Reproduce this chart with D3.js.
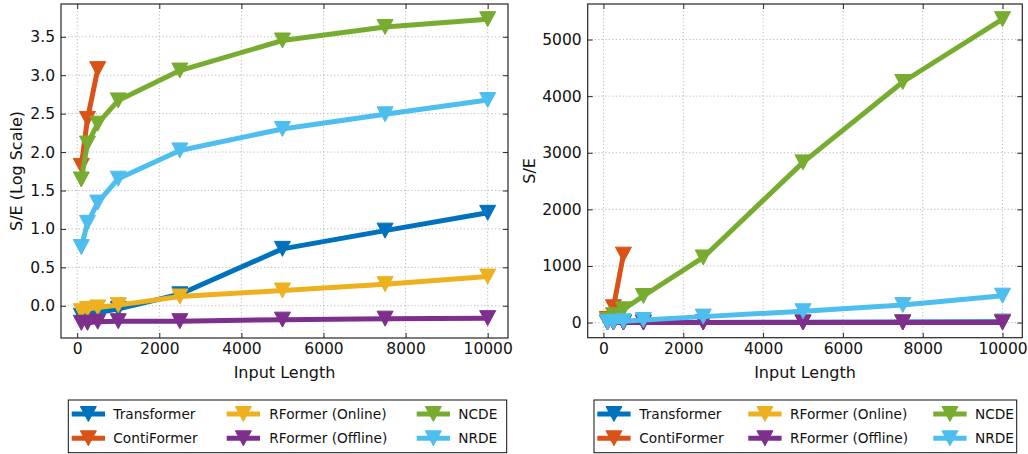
<!DOCTYPE html>
<html>
<head>
<meta charset="utf-8">
<script src="https://cdn.jsdelivr.net/npm/d3@7"></script>
<style>
  html, body { margin: 0; padding: 0; background: #fff; }
  svg { display: block; font-family: "DejaVu Sans", sans-serif; }
</style>
</head>
<body>
<svg id="chart" width="1028" height="454"></svg>
<script>
// ---------------- data ----------------
const inputLengths = [100, 250, 500, 1000, 2500, 5000, 7500, 10000];
const contiLengths = [100, 250, 500];
const transformer   = [0.74, 0.78, 0.81, 0.91, 1.41, 5.5, 9.5, 16.2];
const contiformer   = [66, 270, 1200];
const rformerOnline = [0.85, 0.91, 0.95, 1.02, 1.32, 1.58, 1.91, 2.40];
const rformerOffline= [0.60, 0.60, 0.62, 0.63, 0.63, 0.66, 0.68, 0.69];
const ncde          = [44, 129, 234, 470, 1150, 2830, 4250, 5360];
const nrde          = [5.8, 12, 22, 45, 105, 200, 310, 475];

const seriesNames  = ["Transformer", "ContiFormer", "RFormer (Online)", "RFormer (Offline)", "NCDE", "NRDE"];
const seriesColors = ["#0072BD", "#D95319", "#EDB120", "#7E2F8E", "#77AC30", "#4DBEEE"];
const seriesX      = [inputLengths, contiLengths, inputLengths, inputLengths, inputLengths, inputLengths];
const seriesY      = [transformer, contiformer, rformerOnline, rformerOffline, ncde, nrde];

const xTicks      = [0, 2000, 4000, 6000, 8000, 10000];
const yTicksLog   = [0, 0.5, 1.0, 1.5, 2.0, 2.5, 3.0, 3.5];
const yTicksLin   = [0, 1000, 2000, 3000, 4000, 5000];

// ---------------- setup ----------------
const svg = d3.select("#chart");
const FONT_TICK = 15.5, FONT_LEG = 13.7;
const LW = 5, MW = 16, MH = 15;

function pad(ext) { const r = ext[1] - ext[0]; return [ext[0] - 0.05 * r, ext[1] + 0.05 * r]; }

const allX = seriesX.flat();
const xDomain = pad(d3.extent(allX));

const series = seriesNames.map((name, i) => ({
  name, color: seriesColors[i],
  pts: seriesX[i].map((x, j) => ({x, v: seriesY[i][j]}))
}));

function tri(cx, cy) {
  return `M${cx - MW/2},${cy - MH/2}L${cx + MW/2},${cy - MH/2}L${cx},${cy + MH/2}Z`;
}

function panel(opts) {
  const {x0, x1, y0, y1, valueFn, yTicks, yFmt, yLabel, yLabelX} = opts;
  const g = svg.append("g");
  const allV = series.flatMap(s => s.pts.map(p => valueFn(p.v)));
  const x = d3.scaleLinear().domain(xDomain).range([x0, x1]);
  const y = d3.scaleLinear().domain(pad(d3.extent(allV))).range([y1, y0]);

  // grid
  const grid = g.append("g").attr("stroke", "#b8b8b8").attr("stroke-width", 0.9).attr("stroke-dasharray", "1.3,2.2");
  grid.selectAll(".gx").data(xTicks).join("line")
    .attr("x1", d => x(d)).attr("x2", d => x(d)).attr("y1", y0).attr("y2", y1);
  grid.selectAll(".gy").data(yTicks).join("line")
    .attr("y1", d => y(d)).attr("y2", d => y(d)).attr("x1", x0).attr("x2", x1);

  // series
  const line = d3.line().x(p => x(p.x)).y(p => y(valueFn(p.v)));
  series.forEach(s => {
    const sg = g.append("g");
    sg.append("path").attr("d", line(s.pts)).attr("fill", "none")
      .attr("stroke", s.color).attr("stroke-width", LW).attr("stroke-linejoin", "round");
    sg.selectAll("path.m").data(s.pts).join("path").attr("class", "m")
      .attr("d", p => tri(x(p.x), y(valueFn(p.v)))).attr("fill", s.color)
      .attr("stroke", s.color).attr("stroke-width", 1).attr("stroke-linejoin", "miter");
  });

  // axes
  const fs = FONT_TICK;
  const ax = (sel) => sel.call(a => a.select(".domain").remove())
    .call(a => a.selectAll("text").attr("font-size", fs).attr("font-family", "DejaVu Sans").attr("fill", "#111"))
    .call(a => a.selectAll("line").attr("stroke", "#262626").attr("stroke-width", 1));
  g.append("g").attr("transform", `translate(0,${y1})`)
    .call(d3.axisBottom(x).tickValues(xTicks).tickSizeInner(-5).tickSizeOuter(0).tickPadding(5).tickFormat(d3.format("d"))).call(ax);
  g.append("g").attr("transform", `translate(0,${y0})`)
    .call(d3.axisTop(x).tickValues(xTicks).tickSizeInner(-5).tickSizeOuter(0).tickFormat("")).call(ax);
  g.append("g").attr("transform", `translate(${x0},0)`)
    .call(d3.axisLeft(y).tickValues(yTicks).tickSizeInner(-5).tickSizeOuter(0).tickPadding(6).tickFormat(yFmt)).call(ax);
  g.append("g").attr("transform", `translate(${x1},0)`)
    .call(d3.axisRight(y).tickValues(yTicks).tickSizeInner(-5).tickSizeOuter(0).tickFormat("")).call(ax);

  // frame
  g.append("rect").attr("x", x0).attr("y", y0).attr("width", x1 - x0).attr("height", y1 - y0)
    .attr("fill", "none").attr("stroke", "#262626").attr("stroke-width", 1.2);

  // labels
  g.append("text").attr("x", (x0 + x1) / 2).attr("y", y1 + 40).attr("text-anchor", "middle")
    .attr("font-size", fs + 0.5).attr("fill", "#111").text("Input Length");
  g.append("text").attr("transform", `translate(${yLabelX},${(y0 + y1) / 2}) rotate(-90)`)
    .attr("text-anchor", "middle").attr("font-size", fs + 0.5).attr("fill", "#111").text(yLabel);
}

panel({x0: 61, x1: 508, y0: 4, y1: 338, valueFn: v => Math.log10(v),
  yTicks: yTicksLog, yFmt: d3.format(".1f"), yLabel: "S/E (Log Scale)", yLabelX: 22});
panel({x0: 587.7, x1: 1022.3, y0: 4, y1: 337.7, valueFn: v => v,
  yTicks: yTicksLin, yFmt: d3.format("d"), yLabel: "S/E", yLabelX: 535});

// ---------------- legends ----------------
function legend(bx, bw, handleX, textX) {
  const by = 400, bh = 52.7, rows = [14, 38.3], hl = 33.3;
  const g = svg.append("g");
  g.append("rect").attr("x", bx).attr("y", by).attr("width", bw).attr("height", bh)
    .attr("fill", "#fff").attr("stroke", "#111").attr("stroke-width", 1);
  series.forEach((s, i) => {
    const col = Math.floor(i / 2), row = i % 2;
    const ly = by + rows[row];
    const hx = bx + handleX[col];
    g.append("line").attr("x1", hx).attr("x2", hx + hl).attr("y1", ly).attr("y2", ly)
      .attr("stroke", s.color).attr("stroke-width", LW);
    g.append("path").attr("d", tri(hx + hl / 2, ly)).attr("fill", s.color).attr("stroke", s.color).attr("stroke-width", 1);
    g.append("text").attr("x", bx + textX[col]).attr("y", ly).attr("dy", "0.35em")
      .attr("font-size", FONT_LEG).attr("fill", "#111").text(s.name);
  });
}
legend(68.3, 438.4, [3.4, 158.4, 348.4], [45, 201, 390]);
legend(594, 422.7, [3.3, 154.3, 339.3], [45.3, 196, 381]);
</script>
</body>
</html>
